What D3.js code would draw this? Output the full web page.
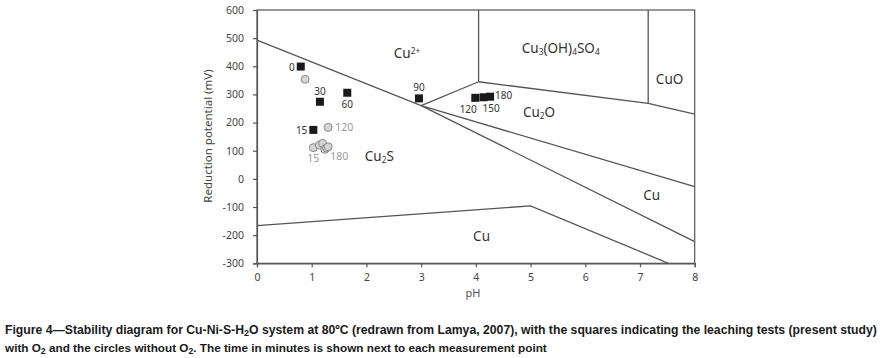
<!DOCTYPE html>
<html>
<head>
<meta charset="utf-8">
<script src="https://cdn.jsdelivr.net/npm/d3@7"></script>
<style>
  html, body { margin: 0; padding: 0; background: #fff; }
  svg { display: block; }
</style>
</head>
<body>
<svg id="chart" width="882" height="358"></svg>
<script>
// ---------- data ----------
const xTicks = [0, 1, 2, 3, 4, 5, 6, 7, 8];
const yTicks = [-300, -200, -100, 0, 100, 200, 300, 400, 500, 600];

// squares: leaching tests with O2
const squarePH   = [0.80, 1.03, 1.15, 1.65, 2.96, 3.99, 4.14, 4.26];
const squareMV   = [399, 174, 274, 306, 286, 288, 290, 292];
const squareTime = ["0", "15", "30", "60", "90", "120", "150", "180"];
const squareLabelSide = ["left", "left", "above", "below", "above", "belowleft", "belowright", "right"];

// circles: without O2
const circlePH   = [0.88, 1.03, 1.14, 1.20, 1.24, 1.30, 1.27, 1.30];
const circleMV   = [354, 111, 120, 126, 105, 183, 110, 114];
const circleTime = ["0", "15", "30", "60", "90", "120", "150", "180"];
const circleLabelSide = ["none", "belowleft", "none", "none", "none", "right", "none", "belowright"];

// stability boundaries (pH, mV)
const boundaryA = [[0, 493], [3.0, 260]];
const boundaryB = [[3.0, 260], [4.05, 345]];
const boundaryC = [[4.05, 345], [4.05, 600]];
const boundaryD = [[4.05, 345], [7.15, 268]];
const boundaryE = [[7.15, 268], [7.15, 600]];
const boundaryF = [[7.15, 268], [8, 230]];
const boundaryG = [[3.0, 260], [8, -28]];
const boundaryH = [[3.0, 260], [8, -223]];
const boundaryI = [[0, -166], [5.0, -96], [7.52, -300]];
const boundaries = [boundaryA, boundaryB, boundaryC, boundaryD, boundaryE, boundaryF, boundaryG, boundaryH, boundaryI];

// region labels
const regionNames = ["Cu2+", "Cu3(OH)4SO4", "CuO", "Cu2O", "Cu", "Cu", "Cu2S"];
const regionPH    = [2.50, 4.84, 7.29, 4.86, 7.06, 3.95, 1.97];
const regionMV    = [429, 447, 337, 220, -75, -221, 64];

// ---------- chart ----------
const svg = d3.select("#chart");
const x = d3.scaleLinear().domain([0, 8]).range([257, 694.7]);
const y = d3.scaleLinear().domain([-300, 600]).range([263.3, 10]);

const lineColor = "#555";
const tickFont = "'Noto Sans', 'Open Sans', sans-serif";

// frame
svg.append("rect")
  .attr("x", x(0)).attr("y", y(600))
  .attr("width", x(8) - x(0)).attr("height", y(-300) - y(600))
  .attr("fill", "none").attr("stroke", lineColor).attr("stroke-width", 1.2);

// axes
const yAxis = d3.axisLeft(y).tickValues(yTicks).tickSize(4).tickPadding(9).tickFormat(d => String(d));
const gy = svg.append("g").attr("transform", `translate(${x(0)},0)`).call(yAxis);
const xAxis = d3.axisBottom(x).tickValues(xTicks).tickSize(4).tickPadding(6).tickFormat(d => String(d));
const gx = svg.append("g").attr("transform", `translate(0,${y(-300)})`).call(xAxis);
[gx, gy].forEach(g => {
  g.select(".domain").attr("stroke", lineColor).attr("stroke-width", 1.2);
  g.selectAll(".tick line").attr("stroke", lineColor).attr("stroke-width", 1.2);
  g.selectAll(".tick text").attr("fill", "#444").style("font-family", tickFont).style("font-size", "10.5px");
});

// axis titles
svg.append("text").attr("x", 473).attr("y", 297).attr("text-anchor", "middle")
  .attr("fill", "#555").style("font-family", tickFont).style("font-size", "11px").text("pH");
svg.append("text").attr("transform", "translate(212,136) rotate(-90)").attr("text-anchor", "middle")
  .attr("fill", "#444").style("font-family", tickFont).style("font-size", "11.5px").text("Reduction potential (mV)");

// boundaries
const line = d3.line().x(d => x(d[0])).y(d => y(d[1]));
svg.append("g").selectAll("path").data(boundaries).join("path")
  .attr("d", line).attr("fill", "none").attr("stroke", lineColor).attr("stroke-width", 1.3);

// region labels with sub/superscripts
const regionFont = "'Noto Sans', 'Open Sans', sans-serif";
function addRich(parent, xp, yp, parts, size, color) {
  const t = parent.append("text").attr("x", xp).attr("y", yp).attr("fill", color)
    .style("font-family", regionFont).style("font-size", size + "px");
  parts.forEach(p => {
    const ts = t.append("tspan").text(p.t);
    if (p.s === "sub") ts.attr("baseline-shift", "-25%").style("font-size", (size * 0.62) + "px");
    if (p.s === "sup") ts.attr("baseline-shift", "45%").style("font-size", (size * 0.62) + "px");
  });
  return t;
}
function parseChem(name) {
  if (name === "Cu2+") return [{t: "Cu"}, {t: "2+", s: "sup"}];
  const parts = [];
  name.replace(/([A-Za-z()]+)|(\d+)/g, (m, a, b) => { parts.push(a ? {t: a} : {t: b, s: "sub"}); });
  return parts;
}
regionNames.forEach((n, i) => {
  addRich(svg, x(regionPH[i]), y(regionMV[i]), parseChem(n), 13.5, "#333");
});

// circles (without O2)
const cg = svg.append("g");
circlePH.forEach((p, i) => {
  cg.append("circle").attr("cx", x(p)).attr("cy", y(circleMV[i])).attr("r", 4)
    .attr("fill", "#d4d4d4").attr("stroke", "#8a8a8a").attr("stroke-width", 1);
});
const labelFont = "'Noto Sans', 'Open Sans', sans-serif";
circleLabelSide.forEach((side, i) => {
  if (side === "none") return;
  const cx = x(circlePH[i]), cy = y(circleMV[i]);
  let tx = cx, ty = cy, anchor = "start";
  if (side === "right") { tx = cx + 7; ty = cy + 4; }
  if (side === "belowleft") { tx = cx - 6; ty = cy + 14; }
  if (side === "belowright") { tx = cx + 2; ty = cy + 13; }
  cg.append("text").attr("x", tx).attr("y", ty).attr("text-anchor", anchor)
    .attr("fill", "#9a9a9a").style("font-family", labelFont).style("font-size", "10.5px").text(circleTime[i]);
});

// squares (with O2)
const sg = svg.append("g");
const sq = 8;
squarePH.forEach((p, i) => {
  sg.append("rect").attr("x", x(p) - sq / 2).attr("y", y(squareMV[i]) - sq / 2)
    .attr("width", sq).attr("height", sq).attr("fill", "#1a1a1a");
});
squareLabelSide.forEach((side, i) => {
  const cx = x(squarePH[i]), cy = y(squareMV[i]);
  let tx = cx, ty = cy, anchor = "middle";
  if (side === "left") { tx = cx - 6; ty = cy + 4; anchor = "end"; }
  if (side === "right") { tx = cx + 5; ty = cy + 2; anchor = "start"; }
  if (side === "above") { tx = cx; ty = cy - 7; }
  if (side === "below") { tx = cx; ty = cy + 15; }
  if (side === "belowleft") { tx = cx + 1.5; ty = cy + 15; anchor = "end"; }
  if (side === "belowright") { tx = cx - 1; ty = cy + 15; anchor = "start"; }
  sg.append("text").attr("x", tx).attr("y", ty).attr("text-anchor", anchor)
    .attr("fill", "#333").style("font-family", labelFont).style("font-size", "10px").text(squareTime[i]);
});

// caption: font size fitted so each line spans the reference width
const capFont = "'Liberation Sans Narrow', 'Liberation Sans', Arial, sans-serif";
function caption(yp, width, parts) {
  const base = 13.5;
  const t = svg.append("text").attr("x", 5).attr("y", yp).attr("fill", "#1a1a1a")
    .style("font-family", capFont).style("font-weight", "bold").style("font-size", base + "px");
  const subs = [];
  parts.forEach(p => {
    const ts = t.append("tspan").text(p.t);
    if (p.s === "sub") { ts.attr("baseline-shift", "-22%").style("font-size", (base * 0.74) + "px"); subs.push(ts); }
  });
  const w = t.node().getComputedTextLength();
  const f = base * width / w;
  t.style("font-size", f + "px");
  subs.forEach(s => s.style("font-size", (f * 0.74) + "px"));
}
caption(334, 873, [
  {t: "Figure 4\u2014Stability diagram for Cu-Ni-S-H"}, {t: "2", s: "sub"},
  {t: "O system at 80\u00baC (redrawn from Lamya, 2007), with the squares indicating the leaching tests (present study)"}
]);
caption(352, 542, [
  {t: "with O"}, {t: "2", s: "sub"}, {t: " and the circles without O"}, {t: "2", s: "sub"},
  {t: ". The time in minutes is shown next to each measurement point"}
]);
</script>
</body>
</html>
